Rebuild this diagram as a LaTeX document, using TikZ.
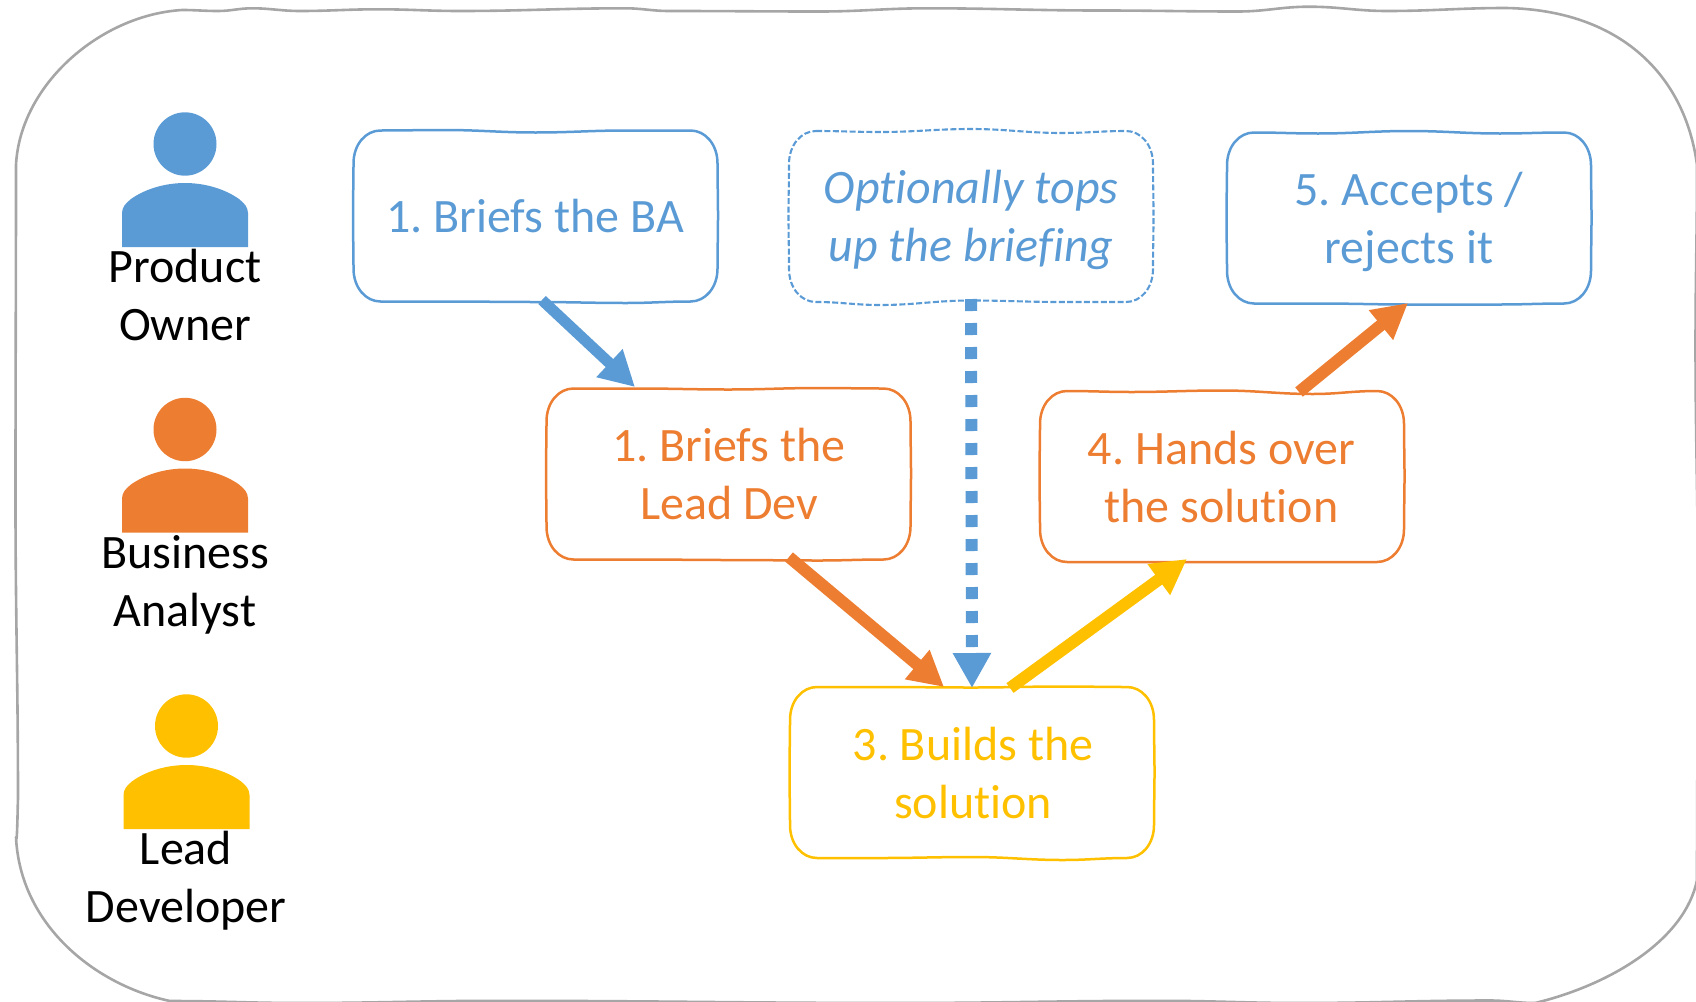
\documentclass[tikz,border=0pt]{standalone}
\usepackage{fontspec}
\setmainfont[Ligatures={NoCommon}]{Carlito}
\usetikzlibrary{arrows.meta}
\definecolor{blueC}{HTML}{5B9BD5}
\definecolor{orangeC}{HTML}{ED7D31}
\definecolor{yellowC}{HTML}{FFC000}
\definecolor{frameC}{HTML}{A6A6A6}
\tikzset{
  wob/.style={out=0,in=180},
  outline/.style={line width=2.5pt,line join=round},
  dashline/.style={line width=2.1pt,dash pattern=on 6pt off 2.4pt},
  stepnode/.style={rectangle,minimum width=364pt,minimum height=171pt,inner sep=0pt,align=center,
    font=\fontsize{48}{58}\selectfont},
  rolenode/.style={rectangle,inner sep=0pt,align=center,text=black,
    font=\fontsize{48}{58}\selectfont},
  flow/.style={line width=12pt,-{Triangle[length=35pt,width=36pt]}},
}
% options, x, y, three top offsets, three bottom offsets
\newcommand\wobblebox[9]{%
  \begin{scope}[shift={(#2,#3)}]
  \draw[#1] (27,0) to[wob] (91,#4) to[wob] (182,#5) to[wob] (273,#6) to[wob] (337,0)
    .. controls (352,0) and (364,14) .. (364,33)
    to[out=-90,in=90] (364.5,85) to[out=-90,in=90] (364,138)
    .. controls (364,157) and (352,171) .. (337,171)
    to[out=180,in=0] (273,171+#9) to[out=180,in=0] (182,171+#8) to[out=180,in=0] (91,171+#7) to[out=180,in=0] (27,171)
    .. controls (12,171) and (0,157) .. (0,138)
    to[out=90,in=-90] (-0.5,85) to[out=90,in=-90] (0,33)
    .. controls (0,14) and (12,0) .. (27,0) -- cycle;
  \end{scope}}
% x of centre, y of head centre, colour
\newcommand\personicon[3]{%
  \begin{scope}[shift={(#1,#2)}]
  \fill[#3] (0,0) ellipse [x radius=31.5,y radius=31.7];
  \fill[#3] (-63,103) -- (-63,69) .. controls (-63,63) and (-59,59) .. (-54,55)
    .. controls (-40,45) and (-20,39) .. (0,39)
    .. controls (20,39) and (40,45) .. (54,55)
    .. controls (59,59) and (63,63) .. (63,69) -- (63,103) -- cycle;
  \end{scope}}
\begin{document}
\frenchspacing
\begin{tikzpicture}[x=1pt,y=-1pt]
\useasboundingbox (0,0) rectangle (1696,1001);
\begin{scope}
\clip (0,0) rectangle (1696,1001);
\draw[frameC,line width=2.6pt,line join=round]
  (182,10) to[wob] (218,11) to[wob] (252,8.3) to[wob] (300,11) to[wob] (378,9.3)
  to[wob] (460,11) to[wob] (625,8.3) to[wob] (669,11) to[wob] (820,11.5)
  to[wob] (927,8.3) to[wob] (1100,10.5) to[wob] (1238,11.5) to[wob] (1309,6.7)
  to[wob] (1387,11) to[wob] (1506,8)
  .. controls (1620,10) and (1685,75) .. (1697,165)
  to[out=-90,in=90] (1695.5,345) to[out=-90,in=90] (1698,600) to[out=-90,in=90] (1697,880)
  .. controls (1685,940) and (1610,985) .. (1535,1003)
  to[out=180,in=0] (1490,1000.5) to[out=180,in=0] (1300,1003) to[out=180,in=0] (1160,1000.8)
  to[out=180,in=0] (900,1003) to[out=180,in=0] (500,1000.8) to[out=180,in=0] (300,1003) to[out=180,in=0] (170,1001)
  .. controls (95,985) and (20,925) .. (16,837)
  to[out=-85,in=90] (18,800) to[out=90,in=-90] (15.5,500) to[out=90,in=-90] (16,165)
  .. controls (20,85) and (100,15) .. (182,10) -- cycle;
\end{scope}

\personicon{185}{144}{blueC}
\personicon{185}{429.5}{orangeC}
\personicon{186.5}{726}{yellowC}

\node[rolenode] (po) at (185,299.5) {\strut Product\\\strut Owner};
\node[rolenode] (ba) at (185,585.5) {\strut Business\\\strut Analyst};
\node[rolenode] (ld) at (186,882) {\strut Lead\\\strut Developer};

\wobblebox{blueC,outline}{353.5}{130.5}{-0.5}{2}{0}{0}{0.5}{1.5}
\wobblebox{orangeC,outline}{546.5}{388.5}{0}{1}{-0.5}{0}{0.5}{1}
\wobblebox{blueC,dashline}{789}{131}{1}{-2}{2}{3}{-1.5}{0}
\wobblebox{blueC,outline}{1227}{132.5}{1}{-1.5}{1}{0}{1}{1}
\wobblebox{orangeC,outline}{1040}{391}{1}{-0.5}{3}{0}{0}{0}
\wobblebox{yellowC,outline}{790}{687}{0}{0.5}{-0.5}{0}{-1}{2}

\node[stepnode,text=blueC] (s1) at (535,220.5) {\strut 1. Briefs the BA};
\node[stepnode,text=orangeC] (s2) at (729,479.25) {\strut 1. Briefs the\\\strut Lead Dev};
\node[stepnode,text=blueC,font=\fontsize{48}{58}\selectfont\itshape] (opt) at (971,221.25) {\strut Optionally tops\\\strut up the briefing};
\node[stepnode,text=blueC] (s5) at (1409,223.25) {\strut 5. Accepts /\\\strut rejects it};
\node[stepnode,text=orangeC] (s4) at (1221.5,482) {\strut 4. Hands over\\\strut the solution};
\node[stepnode,text=yellowC] (s3) at (973,778) {\strut 3. Builds the\\\strut solution};

\draw[flow,line width=11pt,blueC] ([shift={(7,79.5)}]s1.center) -- ([shift={(-94,-92.25)}]s2.center);
\draw[flow,blueC,dash pattern=on 12pt off 12pt] ([shift={(0,77.75)}]opt.center) -- ([shift={(-1,-90)}]s3.center);
\draw[flow,orangeC] ([shift={(60,77.75)}]s2.center) -- ([shift={(-29,-91)}]s3.center);
\draw[flow,yellowC] ([shift={(37,-90)}]s3.center) -- ([shift={(-34.5,77)}]s4.center);
\draw[flow,orangeC] ([shift={(77.5,-90)}]s4.center) -- ([shift={(-1,79.75)}]s5.center);
\end{tikzpicture}
\end{document}
